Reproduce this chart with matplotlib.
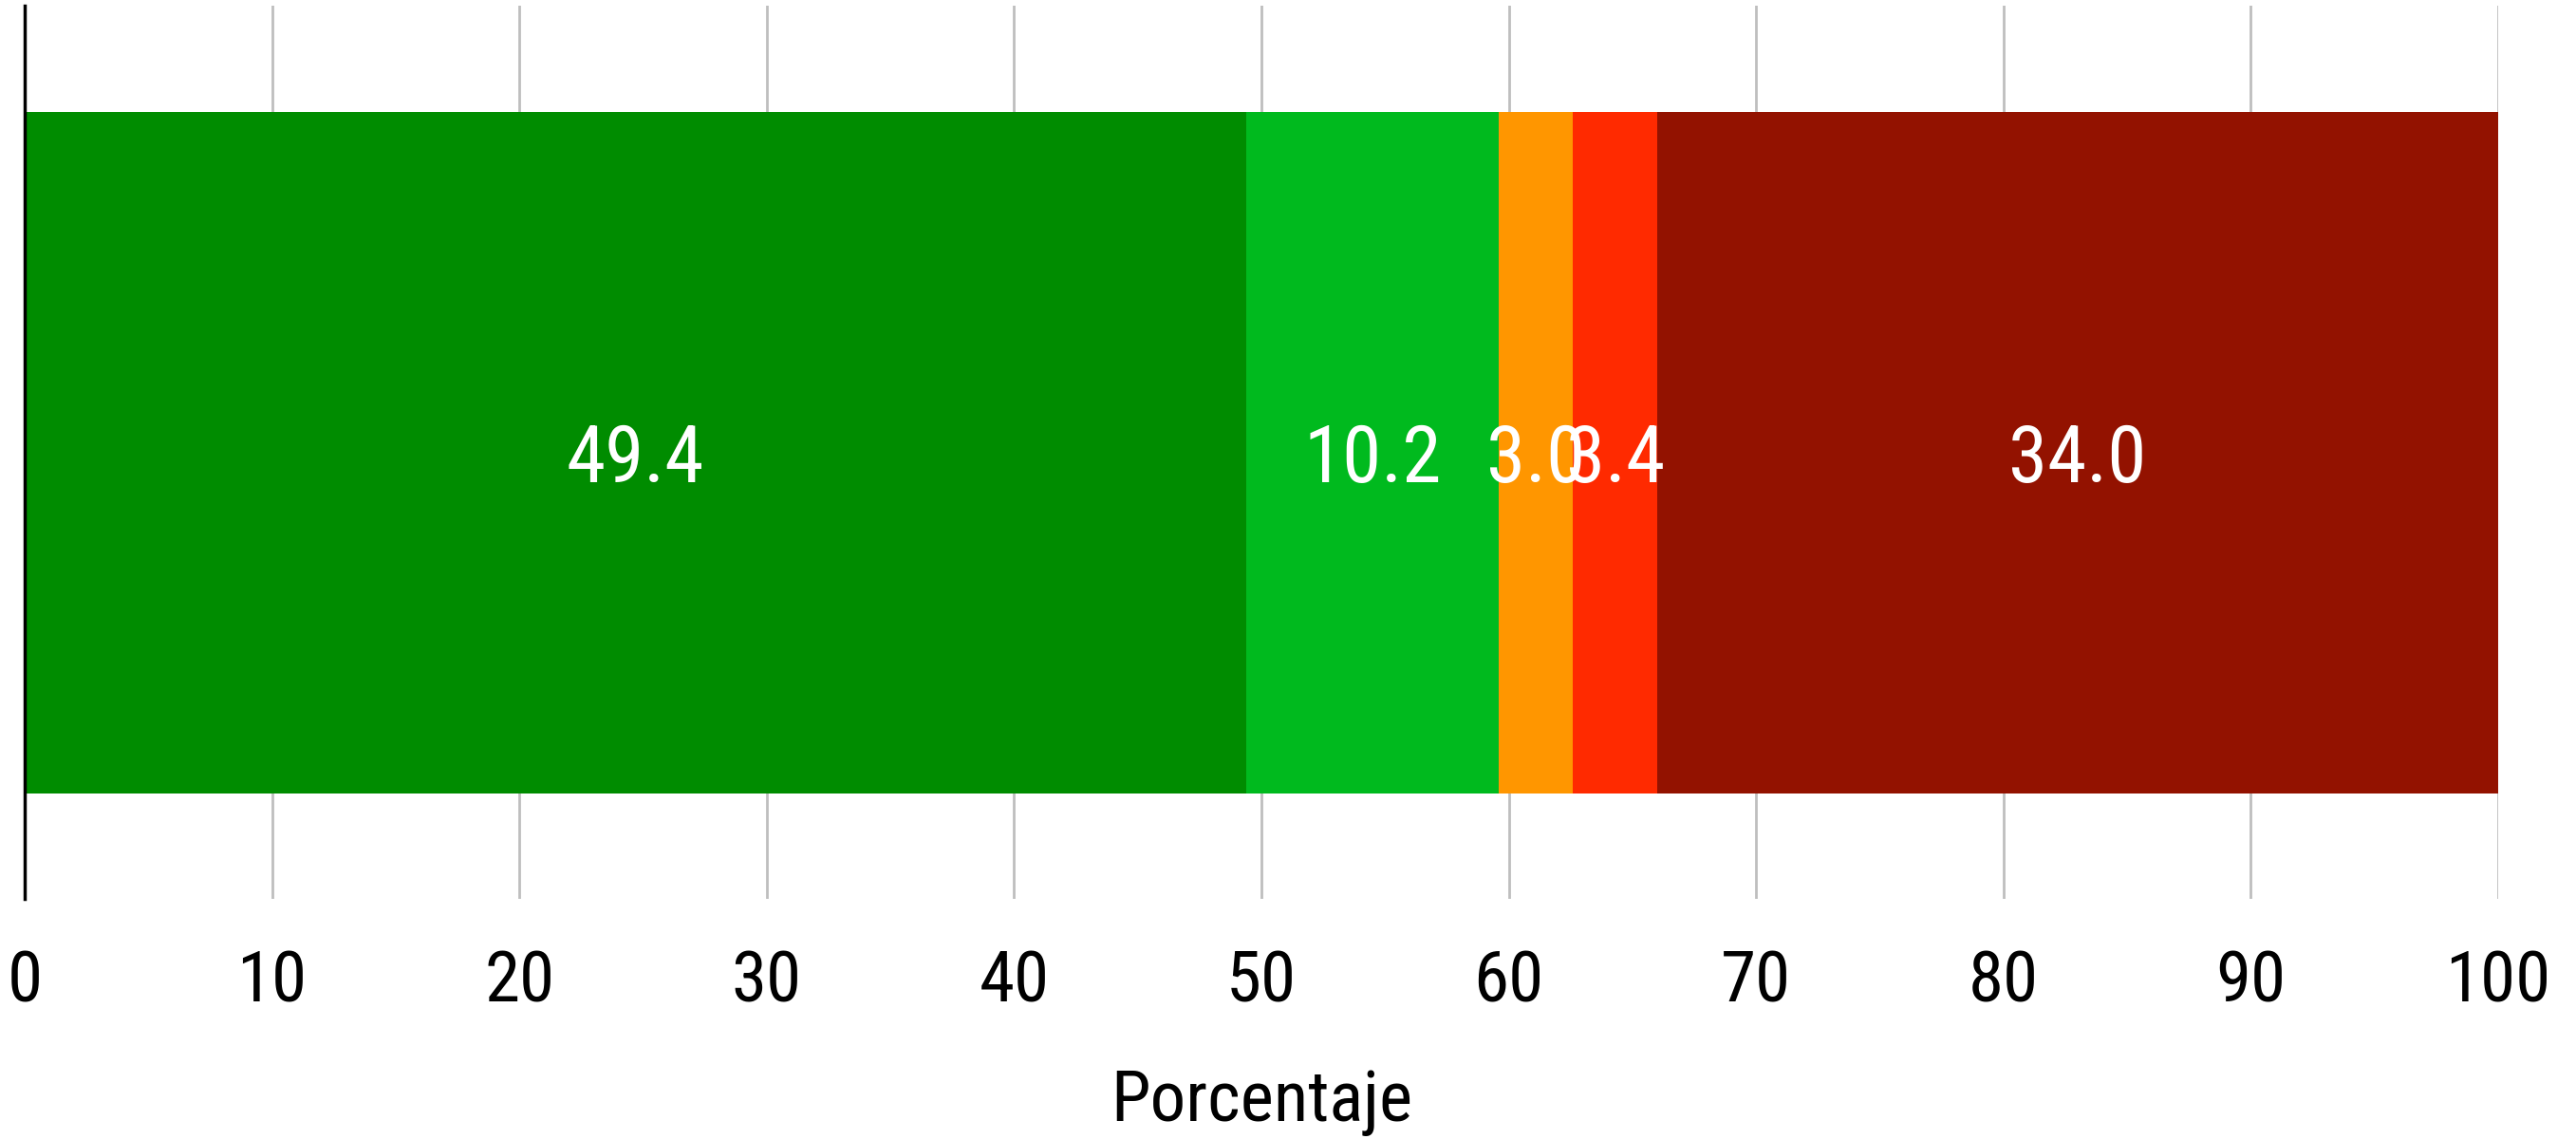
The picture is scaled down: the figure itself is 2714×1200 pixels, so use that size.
import matplotlib
matplotlib.use('Agg')
import matplotlib.pyplot as plt

# %% Data
categories = ['Muy bueno', 'Bueno', 'Regular', 'Malo', 'Muy malo']
values     = [49.4, 10.2, 3.0, 3.4, 34.0]
colors     = ['#008c00', '#00ba1e', '#ff9600', '#ff2a00', '#931200']
x_ticks    = [0, 10, 20, 30, 40, 50, 60, 70, 80, 90, 100]

plt.rcParams['font.family'] = ['Roboto Condensed', 'DejaVu Sans']

fig = plt.figure(figsize=(27.14, 12), dpi=100)
ax = fig.add_axes([26 / 2714, 1 - 947 / 1200, (2632 - 26) / 2714, 941 / 1200])

left = 0
for v, c in zip(values, colors):
    ax.barh(0, v, left=left, height=0.8, color=c, zorder=2)
    ax.text(left + v / 2, -0.01, f'{v:.1f}', ha='center', va='center',
            color='white', fontsize=60, zorder=3)
    left += v

ax.set_xlim(0, 100)
ax.set_ylim(-0.4 * 941 / 718, 0.4 * 941 / 718)
ax.set_xticks(x_ticks)
ax.set_xticklabels([str(t) for t in x_ticks])
ax.set_yticks([])
ax.tick_params(axis='x', length=0, pad=38, labelsize=54)
ax.grid(axis='x', color='#bebebe', linewidth=2, zorder=1)
for s in ['top', 'right', 'bottom']:
    ax.spines[s].set_visible(False)
ax.spines['left'].set_linewidth(2.5)
ax.spines['left'].set_color('black')
ax.set_xlabel('Porcentaje', fontsize=54, labelpad=40)

fig.savefig('out.png', dpi=100)
